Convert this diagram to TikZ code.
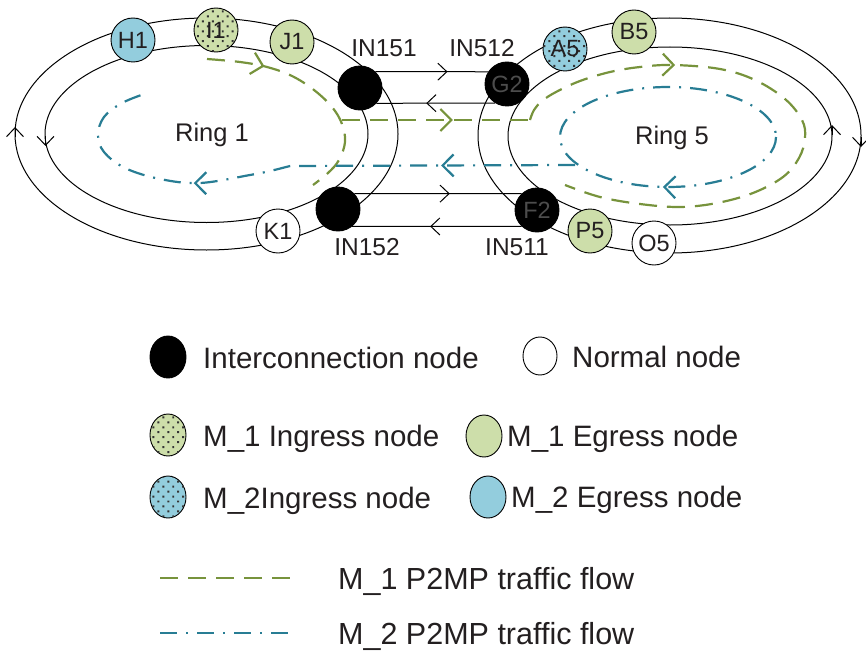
\documentclass[tikz,border=0pt]{standalone}
\usepackage{fontspec}
\setmainfont{Liberation Sans}
\usetikzlibrary{arrows.meta}
\usetikzlibrary{decorations.markings}
\usetikzlibrary{patterns.meta}
\usetikzlibrary{shapes.geometric}

\definecolor{mgreen}{RGB}{119,147,60}
\definecolor{mteal}{RGB}{40,125,148}
\definecolor{egrfill}{RGB}{205,222,170}
\definecolor{egbfill}{RGB}{147,205,221}
\definecolor{txt}{RGB}{35,31,32}

\tikzset{
  ringline/.style={line width=1pt, black},
  ringtip/.style={ringline, -{Straight Barb[length=9pt,width=17pt]}},
  ringnode/.style={circle, draw=black, line width=0.9pt, minimum size=44pt, inner sep=0pt, text=txt, font=\fontsize{23.5}{24}\selectfont},
  icnode/.style={ringnode, fill=black, text=black!70},
  normalnode/.style={ringnode, fill=white},
  egress1/.style={ringnode, fill=egrfill},
  egress2/.style={ringnode, fill=egbfill},
  dotted1/.style={postaction={pattern={Dots[distance=7pt,radius=1.4pt,angle=45]}, pattern color=black!80}},
  ingress1/.style={egress1, dotted1},
  ingress2/.style={egress2, dotted1},
  link/.style={line width=1pt, black},
  linkmid/.style={postaction={decorate, decoration={markings, mark=at position #1 with {\arrow{Straight Barb[length=9pt,width=17pt]}}}}},
  flow1/.style={mgreen, line width=2.2pt, dash pattern=on 18pt off 10pt},
  flow2/.style={mteal, line width=2.2pt, dash pattern=on 17pt off 9pt on 2pt off 9pt},
  flowmid/.style={postaction={decorate, decoration={markings, mark=at position #1 with {\arrow{Straight Barb[length=11pt,width=22pt]}}}}},
  inlabel/.style={anchor=base, inner sep=0pt, text=txt, font=\fontsize{24.5}{25}\selectfont},
  ringlabel/.style={anchor=base, inner sep=0pt, text=txt, font=\fontsize{25.5}{26}\selectfont},
  legmark/.style={ellipse, draw=black, line width=0.9pt, minimum width=36pt, minimum height=42pt, inner sep=0pt},
  legtext/.style={anchor=base west, inner sep=0pt, text=txt, font=\fontsize{29.5}{30}\selectfont},
  flowtext/.style={legtext, font=\fontsize{30.5}{31}\selectfont},
}

\begin{document}
\begin{tikzpicture}[x=1pt, y=-1pt]
  \useasboundingbox (0,0) rectangle (866,650);

  % Ring 1
  \draw[ringline] (206.5,134) ellipse [x radius=191.5, y radius=116];
  \draw[ringline] (206.5,134) ellipse [x radius=161.5, y radius=88.5];
  \draw[ringtip] (15,137) -- (15,127);
  \draw[ringtip] (45.5,136) -- (45.5,146);

  % Ring 5
  \draw[ringline] (669.5,135.5) ellipse [x radius=191.5, y radius=117.5];
  \draw[ringline] (670,136) ellipse [x radius=162, y radius=89];
  \draw[ringtip] (832,135) -- (832,125);
  \draw[ringtip] (861,137) -- (861,147);

  % M_1 traffic flow
  \draw[flow1, flowmid=58pt] plot[smooth, tension=0.6] coordinates {(207,59) (240,62) (267,67) (292,76) (314,90) (332,107) (342,124) (345,142) (339,160) (328,173) (313,185)};
  \draw[flow1, flowmid=0.59] (342,120) -- (530,120);
  \draw[flow1, flowmid=163pt] plot[smooth, tension=0.6] coordinates {(530,120) (534,110) (542,101) (556,92) (580,81) (610,72) (640,67) (673,65) (720,69) (755,80) (785,99) (802,120) (805,138) (799,158) (783,177) (753,193) (717,203) (680,207) (640,204) (600,197) (565,185)};

  % M_2 traffic flow
  \draw[flow2, flowmid=0.26] (668,137) ellipse [x radius=108, y radius=50];
  \draw[flow2, flowmid=0.47] (575,165) -- (290,166);
  \draw[flow2, flowmid=98pt] plot[smooth, tension=0.6] coordinates {(290,166) (270,171) (250,175) (200,183) (160,179) (125,168) (104,152) (98,135) (104,117) (122,103) (147,93)};

  % Ring nodes
  \node[egress2] (h1) at (133,40) {H1};
  \node[ingress1] (i1) at (216,30) {I1};
  \node[egress1] (j1) at (292,42) {J1};
  \node[icnode] (in151) at (360,88) {};
  \node[icnode] (in152) at (338,209) {};
  \node[normalnode] (k1) at (278,231) {K1};
  \node[icnode] (g2) at (507,84) {G2};
  \node[ingress2] (a5) at (565,49) {A5};
  \node[egress1] (b5) at (634,32) {B5};
  \node[icnode] (f2) at (537,210) {F2};
  \node[egress1] (p5) at (590,231) {P5};
  \node[normalnode] (o5) at (654,243) {O5};

  % Interconnection links
  \draw[link, linkmid=0.64] (in151.47) -- (g2.147);
  \draw[link, linkmid=0.58] (g2.238) -- (in151.-43);
  \draw[link, linkmid=0.57] (in152.43) -- (f2.133);
  \draw[link, linkmid=0.54] (f2.227) -- (in152.-51);

  % Labels
  \node[inlabel] (lb151) at (384,57) {IN151};
  \node[inlabel] (lb512) at (482,57) {IN512};
  \node[inlabel] (lb152) at (367,255) {IN152};
  \node[inlabel] (lb511) at (517,255) {IN511};
  \node[ringlabel] (r1) at (212,141) {Ring 1};
  \node[ringlabel] (r5) at (672,144) {Ring 5};

  % Legend
  \node[legmark, fill=black] (lgic) at (168,357) {};
  \node[legtext] (lgict) at (203,368) {Interconnection node};
  \node[legmark, fill=white, minimum width=34pt, minimum height=38pt] (lgno) at (540,356) {};
  \node[legtext] (lgnot) at (572,367) {Normal node};
  \node[legmark, fill=egrfill, dotted1] (lgin1) at (168,435) {};
  \node[legtext] (lgin1t) at (203,446) {M\_1 Ingress node};
  \node[legmark, fill=egrfill] (lgeg1) at (484,436) {};
  \node[legtext] (lgeg1t) at (507,446) {M\_1 Egress node};
  \node[legmark, fill=egbfill, dotted1] (lgin2) at (168,497) {};
  \node[legtext] (lgin2t) at (203,508) {M\_2Ingress node};
  \node[legmark, fill=egbfill] (lgeg2) at (488,497) {};
  \node[legtext] (lgeg2t) at (511,507) {M\_2 Egress node};

  \coordinate (lgf1a) at (160,578);
  \coordinate (lgf1b) at (290,578);
  \draw[flow1] (lgf1a) -- (lgf1b);
  \node[flowtext] (lgf1t) at (338,589) {M\_1 P2MP traffic flow};
  \coordinate (lgf2a) at (160,633);
  \coordinate (lgf2b) at (290,633);
  \draw[flow2] (lgf2a) -- (lgf2b);
  \node[flowtext] (lgf2t) at (338,644) {M\_2 P2MP traffic flow};
\end{tikzpicture}
\end{document}
